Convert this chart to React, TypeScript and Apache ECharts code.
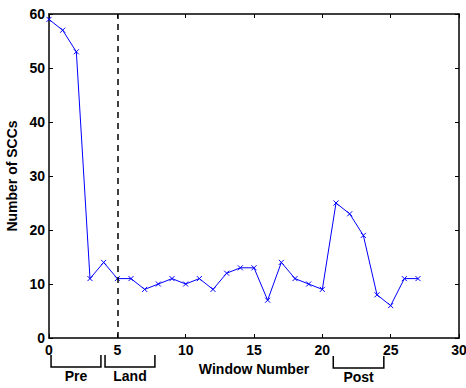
import React, { useEffect, useRef } from "react";
import * as echarts from "echarts";

const windows = [0,1,2,3,4,5,6,7,8,9,10,11,12,13,14,15,16,17,18,19,20,21,22,23,24,25,26,27];
const sccCounts = [59,57,53,11,14,11,11,9,10,11,10,11,9,12,13,13,7,14,11,10,9,25,23,19,8,6,11,11];
const xTicks = [0,5,10,15,20,25,30];
const yTicks = [0,10,20,30,40,50,60];
const phaseLabels = ["Pre", "Land", "Post"];
const phaseRanges = [[0.15, 3.8], [4.1, 7.75], [20.8, 24.5]];
const landingWindow = 5;

const FONT = "Liberation Sans, Arial, sans-serif";

export default function App() {
  const ref = useRef<HTMLDivElement>(null);
  useEffect(() => {
    if (!ref.current) return;
    const chart = echarts.init(ref.current, null, { renderer: "svg" });
    const axisCommon = {
      type: "value" as const,
      splitLine: { show: false },
      axisLine: { show: true, onZero: false, lineStyle: { color: "#000", width: 1.5 } },
      axisTick: { show: true, inside: true, length: 4, lineStyle: { color: "#000", width: 1 } },
    };
    const labelStyle = { color: "#000", fontWeight: "bold" as const, fontSize: 14, fontFamily: FONT };
    chart.setOption({
      animation: false,
      grid: { left: 49, top: 14, right: 7, bottom: 50, containLabel: false, outerBoundsMode: "none" },
      xAxis: [
        {
          ...axisCommon,
          min: xTicks[0], max: xTicks[xTicks.length - 1], interval: 5,
          axisLabel: { ...labelStyle, margin: 5, showMinLabel: true, showMaxLabel: true },
          name: "Window Number",
          nameLocation: "middle",
          nameGap: 23,
          nameTextStyle: { ...labelStyle },
        },
        {
          ...axisCommon,
          position: "top",
          min: xTicks[0], max: xTicks[xTicks.length - 1], interval: 5,
          axisLabel: { show: false },
        },
      ],
      yAxis: [
        {
          ...axisCommon,
          min: yTicks[0], max: yTicks[yTicks.length - 1], interval: 10,
          axisLabel: { ...labelStyle, margin: 4 },
          name: "Number of SCCs",
          nameLocation: "middle",
          nameGap: 28,
          nameTextStyle: { ...labelStyle },
        },
        {
          ...axisCommon,
          position: "right",
          min: yTicks[0], max: yTicks[yTicks.length - 1], interval: 10,
          axisLabel: { show: false },
        },
      ],
      series: [
        {
          type: "line",
          data: windows.map((w, i) => [w, sccCounts[i]]),
          lineStyle: { color: "#0000ff", width: 1 },
          symbol: "path://M0,0L10,10M10,0L0,10",
          symbolSize: 5,
          showSymbol: true,
          itemStyle: { color: "none", borderColor: "#0000ff", borderWidth: 1 },
          markLine: {
            silent: true,
            symbol: ["none", "none"],
            label: { show: false },
            lineStyle: { color: "#000", type: [6, 5], width: 1.5 },
            data: [{ xAxis: landingWindow }],
          },
        },
      ],
    });

    const top = 355;
    const bottom = 367;
    const graphics: any[] = [];
    phaseRanges.forEach((r, i) => {
      const x0 = chart.convertToPixel({ xAxisIndex: 0 }, r[0]);
      const x1 = chart.convertToPixel({ xAxisIndex: 0 }, r[1]);
      const yOff = i === 2 ? 1 : 0;
      graphics.push({
        type: "polyline",
        shape: { points: [[x0, top + yOff], [x0, bottom + yOff], [x1, bottom + yOff], [x1, top + yOff]] },
        style: { stroke: "#000", fill: "none", lineWidth: 1.5 },
      });
      graphics.push({
        type: "text",
        x: (x0 + x1) / 2,
        y: bottom + 2 + yOff,
        style: {
          text: phaseLabels[i],
          fill: "#000",
          font: "bold 14px " + FONT,
          align: "center",
          verticalAlign: "top",
        },
      });
    });
    chart.setOption({ graphic: graphics });
    return () => chart.dispose();
  }, []);
  return <div ref={ref} style={{ width: 466, height: 388, position: "absolute", left: 0, top: 0, background: "#fff" }} />;
}
